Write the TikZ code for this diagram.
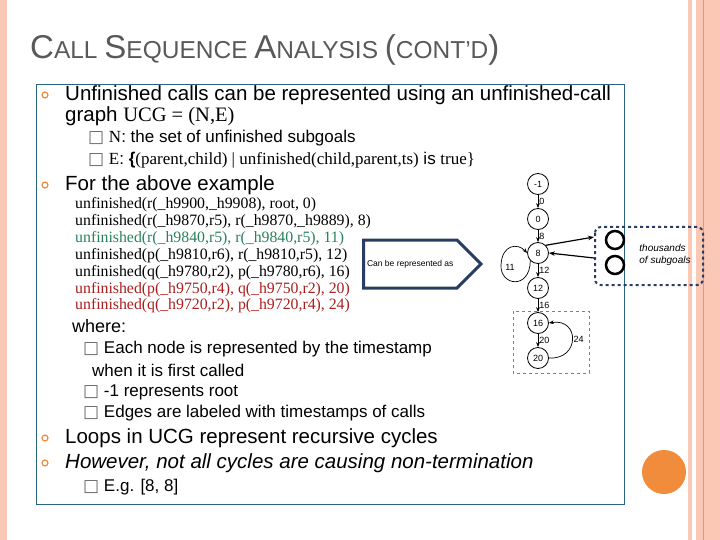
\documentclass[tikz,border=0pt]{standalone}
\usepackage{fontspec}
\setmainfont{Liberation Sans}
\newfontfamily\codefont{Liberation Serif}
\newfontfamily\symfont{DejaVu Sans}
\usepackage{tikz}
\usetikzlibrary{arrows.meta,shapes.arrows,calc}

\definecolor{pinkbar}{RGB}{250,200,180}
\definecolor{pinkline}{RGB}{235,150,110}
\definecolor{boxline}{RGB}{40,100,130}
\definecolor{bulletorange}{RGB}{240,140,60}
\definecolor{navy}{RGB}{40,60,100}
\definecolor{codegreen}{RGB}{40,130,90}
\definecolor{codered}{RGB}{170,30,30}

\tikzset{
  txt/.style={anchor=west,inner sep=0pt,font=\fontsize{20.5}{22}\selectfont},
  sub/.style={anchor=west,inner sep=0pt,font=\fontsize{17}{19}\selectfont},
  code/.style={anchor=west,inner sep=0pt,font=\codefont\fontsize{15.8}{17}\selectfont},
  blt/.style={circle,draw=bulletorange,line width=1.2pt,inner sep=0pt,minimum size=6pt},
  gnode/.style={circle,draw,line width=0.8pt,inner sep=0pt,minimum size=21pt,font=\fontsize{9}{10}\selectfont},
  elabel/.style={font=\fontsize{9}{10}\selectfont,inner sep=1pt},
  garrow/.style={-{Stealth[length=5pt]},line width=0.7pt}
}

\begin{document}
\begin{tikzpicture}[x=1pt,y=-1pt]
	\useasboundingbox (0,0) rectangle (720,540);

	% side bars
	\fill[pinkbar] (0,0) rectangle (7,540);
	\fill[pinkbar] (688,0) rectangle (692,540);
	\fill[pinkbar] (696,0) rectangle (720,540);
	\draw[pinkline,line width=0.8pt] (703,0) -- (703,540);

	% title
	\node[anchor=west,inner sep=0pt,text=black!65] (title) at (30,50)
	  {\fontsize{33}{36}\selectfont C\fontsize{24.5}{36}\selectfont ALL
	   \fontsize{33}{36}\selectfont S\fontsize{24.5}{36}\selectfont EQUENCE
	   \fontsize{33}{36}\selectfont A\fontsize{24.5}{36}\selectfont NALYSIS
	   \fontsize{33}{36}\selectfont (\fontsize{24.5}{36}\selectfont CONT'D\fontsize{33}{36}\selectfont )};

	% content frame
	\draw[boxline,line width=0.8pt] (36,84) rectangle (624,504);
	\fill[bulletorange] (664,472) circle (22);

	% main bullets
	\foreach \y in {95,185,438,463} \node[blt] at (45,\y) {};
	\node[txt] (l1) at (65,95) {Unfinished calls can be represented using an unfinished-call};
	\node[txt] (l2) at (65,116) {graph {\codefont UCG = (N,E)}};
	\node[sub] (n1) at (88,138) {{\symfont\color{black!60}□} {\codefont N}: the set of unfinished subgoals};
	\node[sub] (n2) at (88,160) {{\symfont\color{black!60}□} {\codefont E}: \textbf{\{}{\codefont(parent,child) | unfinished(child,parent,ts)} is {\codefont true\}}};
	\node[txt] (l3) at (65,185) {For the above example};

	% code lines
	\node[code] (c1) at (75,205) {unfinished(r(\_h9900,\_h9908), root, 0)};
	\node[code] (c2) at (75,222) {unfinished(r(\_h9870,r5), r(\_h9870,\_h9889), 8)};
	\node[code,text=codegreen] (c3) at (75,239) {unfinished(r(\_h9840,r5), r(\_h9840,r5), 11)};
	\node[code] (c4) at (75,256) {unfinished(p(\_h9810,r6), r(\_h9810,r5), 12)};
	\node[code] (c5) at (75,273) {unfinished(q(\_h9780,r2), p(\_h9780,r6), 16)};
	\node[code,text=codered] (c6) at (75,290) {unfinished(p(\_h9750,r4), q(\_h9750,r2), 20)};
	\node[code,text=codered] (c7) at (75,306) {unfinished(q(\_h9720,r2), p(\_h9720,r4), 24)};

	\node[txt,font=\fontsize{18}{20}\selectfont] (where) at (72,326) {where:};
	\node[sub] (w1) at (83,349) {{\symfont\color{black!60}□} Each node is represented by the timestamp};
	\node[sub] (w1b) at (92,370) {when it is first called};
	\node[sub] (w2) at (83,392) {{\symfont\color{black!60}□} -1 represents root};
	\node[sub] (w3) at (83,413) {{\symfont\color{black!60}□} Edges are labeled with timestamps of calls};
	\node[txt] (l4) at (65,438) {Loops in UCG represent recursive cycles};
	\node[txt] (l5) at (65,463) {\itshape However, not all cycles are causing non-termination};
	\node[sub] (eg) at (83,487) {{\symfont\color{black!60}□} E.g. [8, 8]};

	% block arrow
	\node[single arrow,draw=navy,line width=3pt,fill=white,minimum height=90pt,
	  minimum width=48pt,single arrow head extend=0pt,inner sep=2pt,
	  font=\fontsize{8.5}{10}\selectfont,anchor=west] (repr) at (362,264) {Can be represented as\hspace{10pt}};

	% graph
	\node[gnode] (root) at (538,184) {-1};
	\node[gnode] (g0) at (538,219) {0};
	\node[gnode] (g8) at (538,253) {8};
	\node[gnode] (g12) at (538,288) {12};
	\node[gnode] (g16) at (538,323) {16};
	\node[gnode] (g20) at (538,358) {20};
	\draw[garrow] (root) -- node[elabel,right] {0} (g0);
	\draw[garrow] (g0) -- node[elabel,right] {8} (g8);
	\draw[garrow] (g8) -- node[elabel,right] {12} (g12);
	\draw[garrow] (g12) -- node[elabel,right] {16} (g16);
	\draw[garrow] (g16) -- node[elabel,right] {20} (g20);
	\draw[garrow] (g8.south west) .. controls (530,290) and (500,286) .. (501,265) .. controls (502,244) and (518,243) .. (g8.west);
	\node[elabel] (l11) at (510,267) {11};
	\draw[garrow] (g20.east) .. controls (580,360) and (580,318) .. node[elabel,right] {24} (g16.east);
	\draw[dashed,gray,line width=1pt] (513,311) rectangle (589,373);

	% thousands of subgoals
	\draw[navy,dashed,line width=2pt,rounded corners=6pt] (595,227) rectangle (703,285);
	\draw[line width=2.5pt] (615,240) circle (9);
	\draw[line width=2.5pt] (615,265) circle (9);
	\node[font=\itshape\fontsize{10}{12}\selectfont,align=left] (many) at (665,255) {thousands\\of subgoals};
	\coordinate (boxin) at (594,237);
	\coordinate (boxout) at (594,258);
	\draw[-{Stealth[length=6pt]},line width=1.2pt] (g8.north east) -- (boxin);
	\draw[-{Stealth[length=6pt]},line width=1.2pt] (boxout) -- (g8.east);
\end{tikzpicture}
\end{document}
